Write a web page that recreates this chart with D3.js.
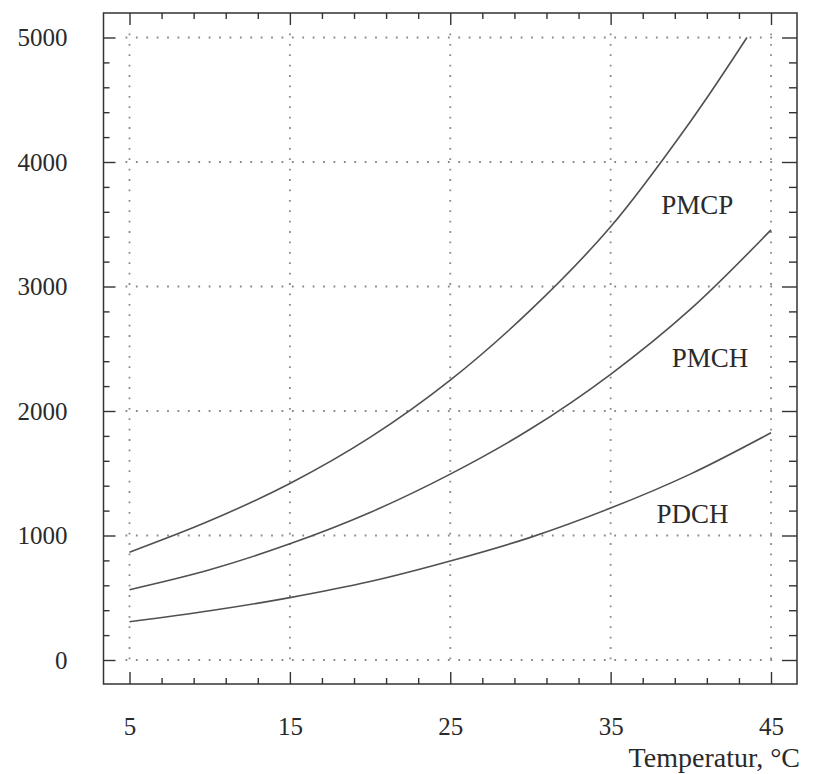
<!DOCTYPE html>
<html>
<head>
<meta charset="utf-8">
<script src="https://cdn.jsdelivr.net/npm/d3@7"></script>
<style>
  html, body { margin: 0; padding: 0; background: #fff; }
  svg { display: block; }
  text { font-family: "Liberation Serif", "Times New Roman", serif; fill: #2a2a2a; }
</style>
</head>
<body>
<svg id="chart" width="813" height="774"></svg>
<script>
// Temperature (°C) and pressure values for the three curves
const temps = [5, 10, 15, 20, 25, 30, 35, 40, 45];
const pmcpTemps = [5, 10, 15, 20, 25, 30, 35, 40, 43.5];
const pmcp = [866, 1118, 1418, 1788, 2248, 2810, 3480, 4330, 5000];
const pmch = [565, 725, 933, 1185, 1493, 1855, 2295, 2820, 3455];
const pdch = [307, 395, 501, 630, 795, 985, 1220, 1495, 1825];

const xTicks = [5, 15, 25, 35, 45];
const yTicks = [0, 1000, 2000, 3000, 4000, 5000];
const xMinorTicks = d3.range(5, 46, 2).filter(v => !xTicks.includes(v));
const yMinorTicks = d3.range(0, 5001, 200).filter(v => !yTicks.includes(v));

const curveLabels = [
  { name: "PMCP", t: 40.4, v: 3584 },
  { name: "PMCH", t: 41.2, v: 2352 },
  { name: "PDCH", t: 40.1, v: 1098 }
];
const xTitle = "Temperatur, °C";

const svg = d3.select("#chart");
const frame = { left: 103.5, right: 797, top: 13, bottom: 684 };

const x = d3.scaleLinear().domain([5, 45]).range([129.5, 771]);
const y = d3.scaleLinear().domain([0, 5000]).range([660, 37.5]);

// Dotted grid
const grid = svg.append("g")
  .attr("stroke", "#8a8a8a")
  .attr("stroke-width", 1.8)
  .attr("stroke-dasharray", "1.8,8.6")
  .attr("fill", "none");
grid.selectAll("line.v").data(xTicks).join("line")
  .attr("x1", d => x(d)).attr("x2", d => x(d))
  .attr("y1", y(5000) - 4).attr("y2", y(0) + 4);
grid.selectAll("line.h").data(yTicks).join("line")
  .attr("y1", d => y(d)).attr("y2", d => y(d))
  .attr("x1", x(5) - 4).attr("x2", x(45) + 4);

// Axes with inward ticks on all four sides
function styleAxis(g) {
  g.select(".domain").remove();
  g.selectAll(".tick line").attr("stroke", "#333").attr("stroke-width", 1.4);
  g.selectAll("text").attr("font-size", 25).attr("fill", "#2a2a2a")
    .attr("font-family", "'Liberation Serif', 'Times New Roman', serif");
}

svg.append("g").attr("transform", `translate(0,${frame.bottom})`)
  .call(d3.axisBottom(x).tickValues(xTicks).tickSize(-12).tickPadding(33).tickFormat(d3.format("d")))
  .call(styleAxis);
svg.append("g").attr("transform", `translate(0,${frame.bottom})`)
  .call(d3.axisBottom(x).tickValues(xMinorTicks).tickSize(-6).tickFormat(""))
  .call(styleAxis);
svg.append("g").attr("transform", `translate(0,${frame.top})`)
  .call(d3.axisTop(x).tickValues(xTicks).tickSize(-12).tickFormat(""))
  .call(styleAxis);
svg.append("g").attr("transform", `translate(0,${frame.top})`)
  .call(d3.axisTop(x).tickValues(xMinorTicks).tickSize(-6).tickFormat(""))
  .call(styleAxis);

svg.append("g").attr("transform", `translate(${frame.left},0)`)
  .call(d3.axisLeft(y).tickValues(yTicks).tickSize(-12).tickPadding(36).tickFormat(d3.format("d")))
  .call(styleAxis);
svg.append("g").attr("transform", `translate(${frame.left},0)`)
  .call(d3.axisLeft(y).tickValues(yMinorTicks).tickSize(-6).tickFormat(""))
  .call(styleAxis);
svg.append("g").attr("transform", `translate(${frame.right},0)`)
  .call(d3.axisRight(y).tickValues(yTicks).tickSize(-15).tickFormat(""))
  .call(styleAxis);
svg.append("g").attr("transform", `translate(${frame.right},0)`)
  .call(d3.axisRight(y).tickValues(yMinorTicks).tickSize(-8).tickFormat(""))
  .call(styleAxis);

// Plot frame
svg.append("rect")
  .attr("x", frame.left).attr("y", frame.top)
  .attr("width", frame.right - frame.left).attr("height", frame.bottom - frame.top)
  .attr("fill", "none").attr("stroke", "#333").attr("stroke-width", 1.5);

// Curves
const line = d3.line().x(d => x(d[0])).y(d => y(d[1])).curve(d3.curveCatmullRom.alpha(0.5));
const series = [
  d3.zip(pmcpTemps, pmcp),
  d3.zip(temps, pmch),
  d3.zip(temps, pdch)
];
svg.append("g").selectAll("path").data(series).join("path")
  .attr("d", line)
  .attr("fill", "none")
  .attr("stroke", "#505050")
  .attr("stroke-width", 1.6);

// Curve names
svg.append("g").selectAll("text").data(curveLabels).join("text")
  .attr("x", d => x(d.t)).attr("y", d => y(d.v))
  .attr("text-anchor", "middle")
  .attr("font-size", 27)
  .text(d => d.name);

// Axis title
svg.append("text")
  .attr("x", 800).attr("y", 767)
  .attr("text-anchor", "end")
  .attr("font-size", 28)
  .text(xTitle);
</script>
</body>
</html>
